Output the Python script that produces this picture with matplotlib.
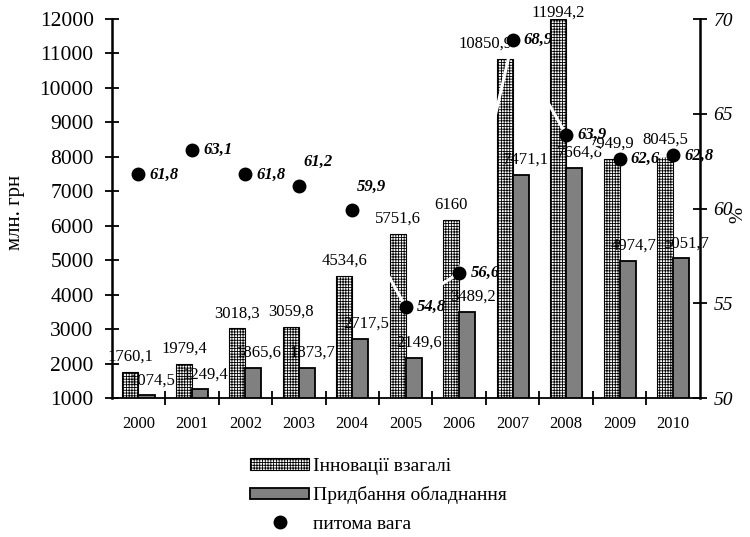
import matplotlib
matplotlib.use('Agg')
import matplotlib.pyplot as plt
import numpy as np

plt.rcParams['font.family'] = ['Liberation Serif', 'DejaVu Serif']
plt.rcParams['hatch.linewidth'] = 0.6

# data
years = ['2000', '2001', '2002', '2003', '2004', '2005', '2006', '2007', '2008', '2009', '2010']
innov_total = [1760.1, 1979.4, 3018.3, 3059.8, 4534.6, 5751.6, 6160, 10850.9, 11994.2, 7949.9, 8045.5]
equipment = [1074.5, 1249.4, 1865.6, 1873.7, 2717.5, 2149.6, 3489.2, 7471.1, 7664.8, 4974.7, 5051.7]
share = [61.8, 63.1, 61.8, 61.2, 59.9, 54.8, 56.6, 68.9, 63.9, 62.6, 62.8]

label_total = 'Інновації взагалі'
label_equip = 'Придбання обладнання'
label_share = 'питома вага'


def fmt(v):
    if float(v).is_integer():
        return str(int(v))
    return f'{v:.1f}'.replace('.', ',')


fig = plt.figure(figsize=(7.5, 5.37), dpi=100)
ax = fig.add_axes([0.149, 0.2588, 0.784, 0.7058])
ax2 = ax.twinx()

x = np.arange(len(years))
w = 0.3

b1 = ax.bar(x - w / 2, innov_total, w, color='white', edgecolor='black',
            linewidth=0.8, hatch='++++++', label=label_total)
b2 = ax.bar(x + w / 2, equipment, w, color='#808080', edgecolor='black',
            linewidth=1.3, label=label_equip)

ymax = 12000
for i, (xi, v) in enumerate(zip(x, innov_total)):
    dy = 5 if v > ymax - 500 else 11   # keep the top label inside the figure
    dx = -14 if i == 7 else 0          # shifted left to clear the dot
    ax.annotate(fmt(v), (xi - w / 2, v), xytext=(dx, dy), textcoords='offset points',
                ha='center', va='center', fontsize=12)
for xi, v in zip(x, equipment):
    ax.annotate(fmt(v), (xi + w / 2, v), xytext=(4, 11), textcoords='offset points',
                ha='center', va='center', fontsize=12)

ax.set_xlim(-0.5, len(years) - 0.5)
ax.set_ylim(1000, ymax)
ax.set_yticks(np.arange(1000, ymax + 1, 1000))
ax.set_xticks(x)
ax.set_xticklabels(years, fontsize=12)
ax.set_xticks(np.arange(0.5, len(years) - 0.5, 1), minor=True)
ax.tick_params(axis='x', which='major', length=0, pad=13)
ax.tick_params(axis='x', which='minor', direction='inout', length=10, width=1.3)
ax.tick_params(axis='y', direction='inout', length=10, width=1.3, labelsize=15.5, pad=8)
ax.set_ylabel('млн. грн', fontsize=15)
ax.yaxis.set_label_coords(-0.148, 0.49)

ax.spines['top'].set_visible(False)
ax.spines['left'].set_linewidth(1.8)
ax.spines['bottom'].set_linewidth(1.3)
ax.spines['right'].set_visible(False)

# share line (white) with black dots
ax2.plot(x, share, color='white', linewidth=2.2, zorder=3)
pts, = ax2.plot(x, share, 'o', color='black', markersize=9, zorder=4, label=label_share)
above = [3, 4]
for i, (xi, v) in enumerate(zip(x, share)):
    if i in above:
        ax2.annotate(fmt(v), (xi, v), xytext=(3, 17), textcoords='offset points',
                     ha='left', va='center', fontsize=12, fontweight='bold', style='italic')
    else:
        ax2.annotate(fmt(v), (xi, v), xytext=(8, 0), textcoords='offset points',
                     ha='left', va='center', fontsize=12, fontweight='bold', style='italic')

ax2.set_ylim(50, 70)
ax2.set_yticks([50, 55, 60, 65, 70])
ax2.tick_params(axis='y', direction='inout', length=10, width=1.3, labelsize=14, pad=5)
for t in ax2.get_yticklabels():
    t.set_style('italic')
ax2.set_ylabel('%', fontsize=14, rotation=90, va='center')
ax2.yaxis.set_label_coords(1.065, 0.483)
ax2.spines['top'].set_visible(False)
ax2.spines['left'].set_visible(False)
ax2.spines['bottom'].set_visible(False)
ax2.spines['right'].set_linewidth(1.8)

fig.legend([b1, b2, pts], [label_total, label_equip, label_share],
           loc='upper left', bbox_to_anchor=(0.321, 0.165), frameon=False,
           fontsize=14, handlelength=3.0, handleheight=0.55, handletextpad=0.2,
           labelspacing=0.58, borderpad=0)

fig.savefig('out.png', dpi=100)
